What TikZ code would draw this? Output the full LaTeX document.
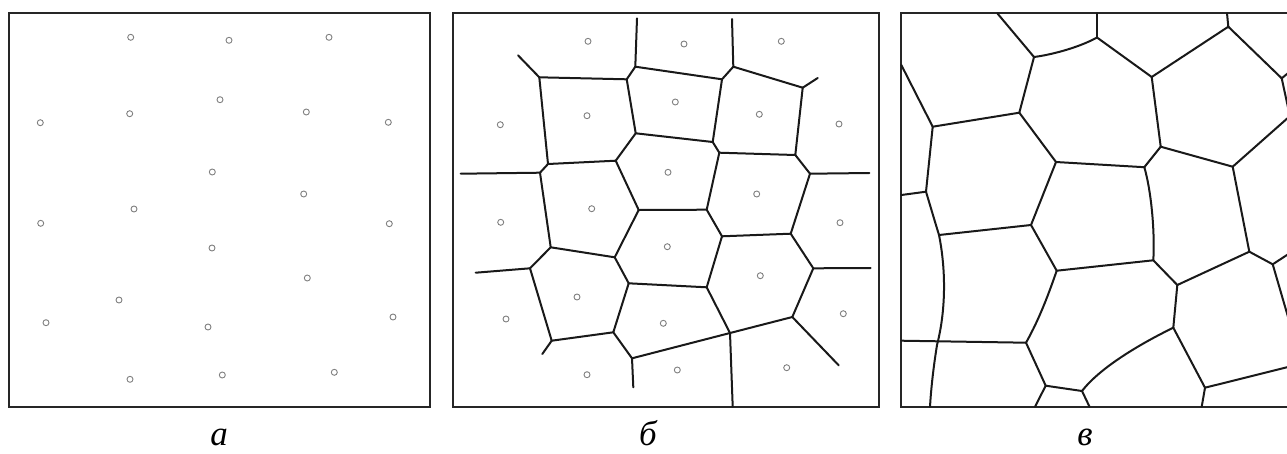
\documentclass[tikz,border=0pt]{standalone}
\usepackage{fontspec}
\setmainfont{Liberation Serif}
\begin{document}
\begin{tikzpicture}[x=1pt,y=-1pt,
  frame/.style={draw=black!85,line width=2.2pt},
  site/.style={circle,draw=black!50,line width=0.9pt,minimum size=6pt,inner sep=0pt},
  edge/.style={draw=black!90,line width=2pt,line cap=round,line join=round},
  lbl/.style={font=\fontsize{35}{35}\selectfont\itshape,anchor=base,inner sep=0pt}]
\useasboundingbox[fill=white] (0,0) rectangle (1287,453);
% ---------- panel a ----------
\draw[frame] (9.3,13.3) rectangle (430,406.7);
\foreach \px/\py [count=\i] in {130.7/37.3,229/40.3,329/37.3,220/99.7,129.7/113.7,306.3/112,40.3/122.7,388.3/122.3,212.3/172,303.7/194,134/209,40.7/223.3,389.3/223.7,212/248,307.3/278,119/300,46/322.7,393/317,208/327,130/379.3,222.3/375,334.3/372.3}
  {\node[site] (a\i) at (\px,\py) {};}
\node[lbl] (la) at (219,445) {а};
% ---------- panel b ----------
\draw[frame] (452.7,13.3) rectangle (878.7,406.7);
\foreach \px/\py [count=\i] in {588/41.3,684/44,781.3/41.3,675.3/102,587/115.7,759.3/114.3,500.3/124.7,839/124,668/172.3,756.7/194,591.7/208.7,500.7/222.3,840/222.7,667.3/246.7,760.3/275.7,577/297,506/319,843.3/313.7,663.3/323.3,587/374.7,677.3/370,786.7/367.7}
  {\node[site] (b\i) at (\px,\py) {};}
\foreach \n/\px/\py in {1/637/18.3,2/635.3/66.7,3/732/19,4/733.3/66.7,5/518/55.3,6/539.3/77.3,7/626.7/79.3,8/722/79.3,9/802.7/87.7,10/817.7/78,11/635.7/133.3,12/712.7/142,13/795.3/155,14/719.3/152.7,15/548/164,16/615.7/160.7,17/540/172.7,18/460.7/173.7,19/810/173.7,20/869.3/173,21/638.7/210,22/706.7/209.7,23/550.7/247.3,24/614.7/257.3,25/722/236.3,26/790.7/233.7,27/530/268.3,28/475.7/272.7,29/813.3/268.3,30/870.7/268,31/628.7/283.3,32/706.7/287.3,33/792.3/317,34/838.7/365.3,35/551.7/340.7,36/542.3/354,37/613.3/332.3,38/632/358.3,39/633.3/387.3,40/730/333,41/732.7/406.7}
  {\coordinate (v\n) at (\px,\py);}
\foreach \s/\t in {1/2,2/7,2/8,3/4,4/8,4/9,5/6,6/7,6/15,7/11,8/12,9/10,9/13,11/12,11/16,12/14,13/14,13/19,14/22,15/16,15/17,17/18,17/23,16/21,21/22,19/20,19/26,21/24,22/25,23/24,23/27,25/26,25/32,26/29,27/28,27/35,24/31,29/30,29/33,31/32,31/37,32/40,33/40,33/34,35/36,35/37,37/38,38/39,38/40,40/41}
  {\draw[edge] (v\s) -- (v\t);}
\node[lbl] (lb) at (648,445) {б};
% ---------- panel c ----------
\draw[frame] (1292,13.3) -- (901.3,13.3) -- (901.3,406.7) -- (1292,406.7);
\foreach \n/\px/\py in {1t/997.3/13.3,2/1034/57,3/1097/37.5,3t/1097/13.3,4/1151.7/77,5/1228.3/26.7,5t/1227/13.3,6/1281.7/78.3,6r/1290/71.5,6d/1289/112,7/901.3/65,8/932.7/126.7,9/1019.3/112.7,10/1056/162,11/1144.3/167.2,12/1160.7/146.7,13/1232.7/166.7,13r/1290/116,14/901.3/195,15/926/191.7,16/939/235,17/1031/225,18/1056.7/270.7,19/1153.3/260.3,20/1177.3/285,21/1249.3/251.7,22/1272.7/264.3,22r/1290/253,22d/1289.5/322,23/901.3/340.7,24/1026/342.7,25/1173.3/327.7,26/1045.7/385.7,27/1082/391,28/1205/387.7,28r/1290/366.5,28b/1201.7/406.7,26b/1035/406.7,27b/1089.5/406.7,bot/930/406.7}
  {\coordinate (w\n) at (\px,\py);}
\foreach \s/\t in {1t/2,9/2,3/3t,3/4,4/5,5/5t,5/6,6/6r,6/6d,4/12,12/11,12/13,13/13r,13/21,7/8,8/9,8/15,9/10,10/11,10/17,14/15,16/17,17/18,18/19,19/20,20/21,21/22,22/22r,22/22d,20/25,25/28,28/28r,28/28b,23/24,24/26,26/27,26/26b,27/27b}
  {\draw[edge] (w\s) -- (w\t);}
\draw[edge] (w2) .. controls (1050,55) and (1078,48) .. (w3);
\draw[edge] (w11) .. controls (1151,190) and (1155,230) .. (w19);
\draw[edge] (w18) .. controls (1050,290) and (1040,318) .. (w24);
\draw[edge] (w25) .. controls (1148,340) and (1102,365) .. (w27);
\draw[edge] (w15) .. controls (930,205) and (935,222) .. (w16)
                  .. controls (946,270) and (946,310) .. (937,345)
                  .. controls (933,370) and (931,390) .. (wbot);
\node[lbl] (lc) at (1085,445) {в};
\end{tikzpicture}
\end{document}
